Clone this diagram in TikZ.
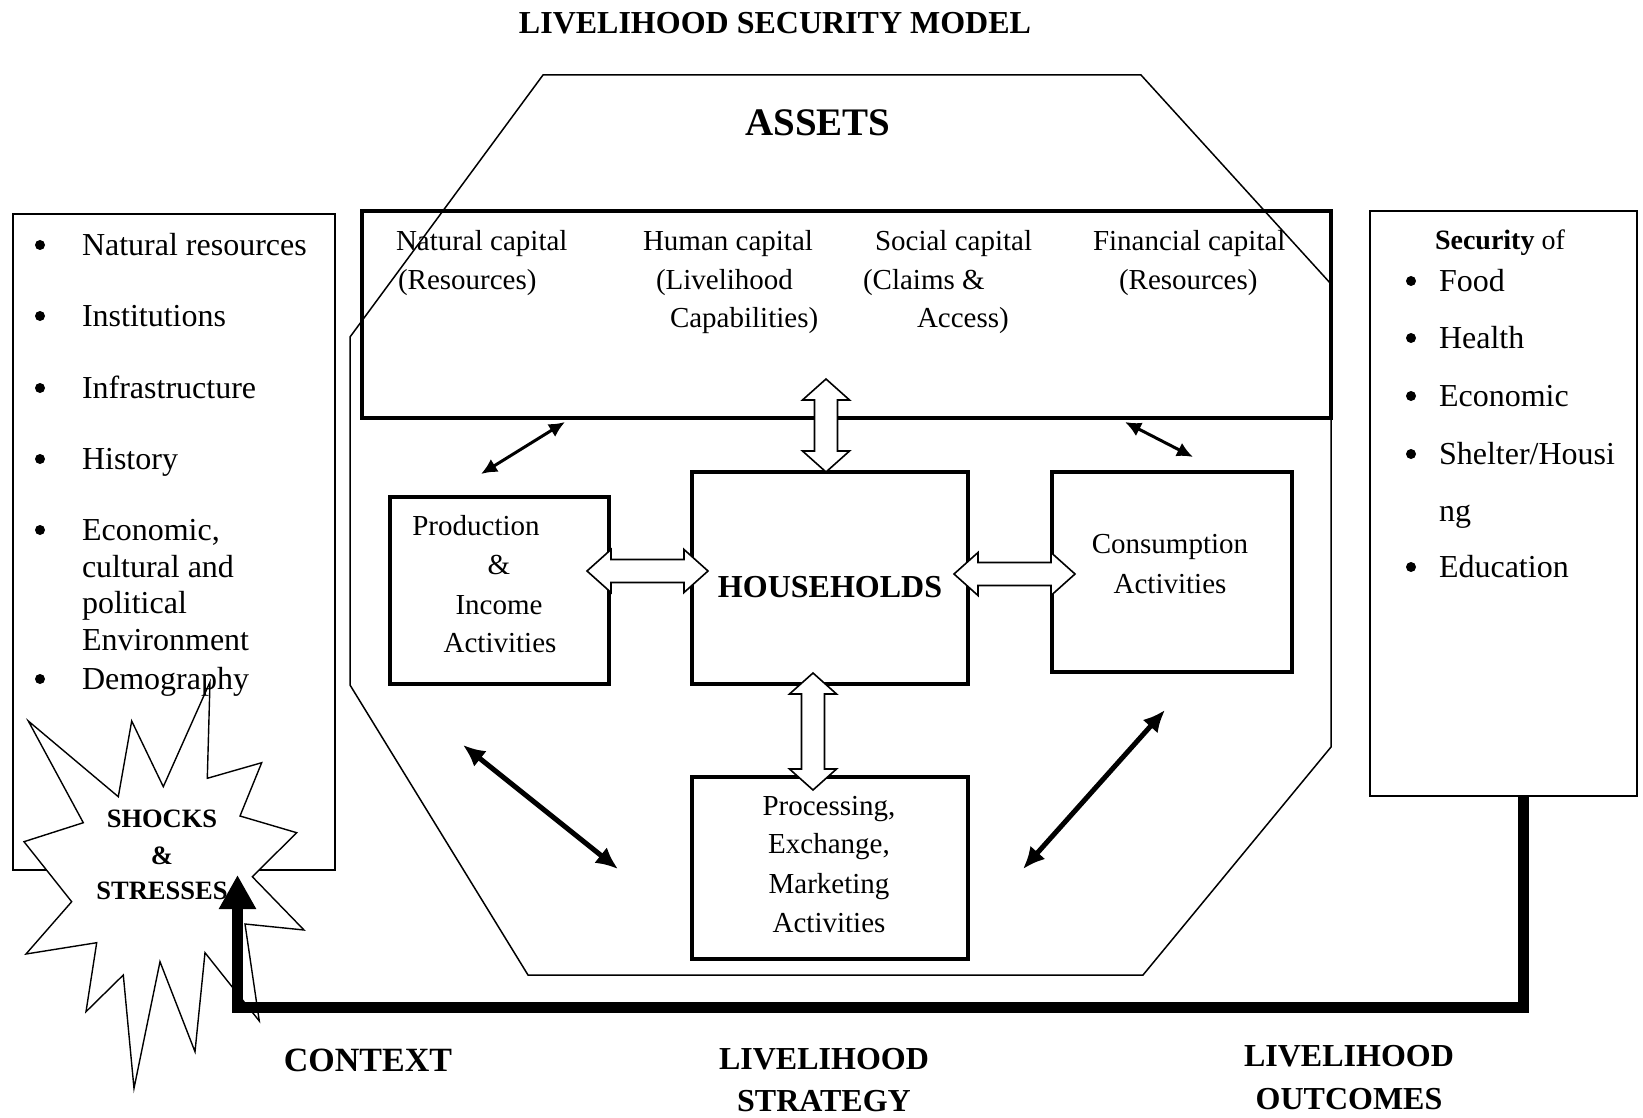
\documentclass[tikz,border=0pt]{standalone}
\usepackage{fontspec}
\setmainfont{Liberation Serif}
\usetikzlibrary{calc,arrows.meta}
\newcommand\blockV[2]{%
  \draw[blockarrow] (#1) -- ($(#1)+(23.5,21)$) -- ($(#1)+(11.5,21)$) -- ($(#2)+(11.5,-21)$) -- ($(#2)+(23.5,-21)$) -- (#2)
   -- ($(#2)+(-23.5,-21)$) -- ($(#2)+(-11.5,-21)$) -- ($(#1)+(-11.5,21)$) -- ($(#1)+(-23.5,21)$) -- cycle;}
\newcommand\blockH[2]{%
  \draw[blockarrow] (#1) -- ($(#1)+(24,-21.5)$) -- ($(#1)+(24,-11.5)$) -- ($(#2)+(-24,-11.5)$) -- ($(#2)+(-24,-21.5)$) -- (#2)
   -- ($(#2)+(-24,21.5)$) -- ($(#2)+(-24,11.5)$) -- ($(#1)+(24,11.5)$) -- ($(#1)+(24,21.5)$) -- cycle;}
\begin{document}
\begin{tikzpicture}[x=0.5pt,y=-0.5pt,
  every node/.style={inner sep=0pt,outer sep=0pt},
  txt/.style={text height=0.72em,text depth=0.22em,yshift=-2.8pt},
  fA/.style={txt,font=\fontsize{14.5pt}{17pt}\selectfont},
  fB/.style={txt,font=\fontsize{16pt}{19pt}\selectfont},
  fS/.style={txt,font=\fontsize{14pt}{17pt}\selectfont},
  hdr/.style={txt,font=\fontsize{16pt}{19pt}\selectfont\bfseries},
  shk/.style={txt,font=\fontsize{13.25pt}{16pt}\selectfont\bfseries},
  thinbox/.style={draw,line width=1pt},
  assetbox/.style={draw,line width=2.2pt},
  actbox/.style={draw,line width=1.7pt},
  oct/.style={line width=0.75pt},
  blockarrow/.style={draw,fill=white,line width=0.8pt,line join=miter},
  dblsmall/.style={line width=1.5pt,{Latex[length=8pt,width=7.5pt]}-{Latex[length=8pt,width=7.5pt]}},
  dblbig/.style={line width=2.5pt,{Latex[length=11pt,width=10pt]}-{Latex[length=11pt,width=10pt]}},
  feedback/.style={line width=5.5pt,line join=miter,-{Triangle[length=17pt,width=17.5pt]}},
  bul/.style={circle,fill=black,minimum size=5pt}
]
\useasboundingbox (0,0) rectangle (1643,1118);

% title
\node[hdr] (title) at (775,23) {LIVELIHOOD SECURITY MODEL};

% context box
\node[thinbox,minimum width=161pt,minimum height=328pt] (ctx) at (174,542) {};
% outcomes box
\node[thinbox,minimum width=133.5pt,minimum height=292.5pt] (out) at (1503.5,503.5) {};

% assets rectangle
\node[assetbox,minimum width=484.5pt,minimum height=103.5pt] (assets) at (846.5,314.5) {};

% octagon
\draw[oct] (543,75) -- (1141,75) -- (1331,284) -- (1331,747) -- (1143,975) -- (528,975) -- (350,685) -- (350,337) -- cycle;

\node[txt,font=\fontsize{19.5pt}{23pt}\selectfont\bfseries] (assetsT) at (818,125) {ASSETS};

% capitals
\node[fA,anchor=west] (nc1) at (396,240) {Natural capital};
\node[fA,anchor=west] (nc2) at (398,279) {(Resources)};
\node[fA,anchor=west] (hc1) at (643,240) {Human capital};
\node[fA,anchor=west] (hc2) at (656,279) {(Livelihood};
\node[fA,anchor=west] (hc3) at (670,317) {Capabilities)};
\node[fA,anchor=west] (sc1) at (875,240) {Social capital};
\node[fA,anchor=west] (sc2) at (863,279) {(Claims \&};
\node[fA,anchor=west] (sc3) at (917,317) {Access)};
\node[fA,anchor=west] (fc1) at (1093,240) {Financial capital};
\node[fA,anchor=west] (fc2) at (1119,279) {(Resources)};

% activity boxes
\node[actbox,minimum width=109.5pt,minimum height=93.5pt] (prod) at (499.5,590.5) {};
\node[actbox,minimum width=138pt,minimum height=106pt] (hh) at (830,578) {};
\node[actbox,minimum width=120pt,minimum height=100pt] (cons) at (1172,572) {};
\node[actbox,minimum width=138pt,minimum height=91pt] (proc) at (830,868) {};

\node[fA] (p1) at (476,525) {Production};
\node[fA] (p2) at (499,564) {\&};
\node[fA] (p3) at (499,604) {Income};
\node[fA] (p4) at (500,642) {Activities};

\node[hdr] (hhT) at (830,587) {HOUSEHOLDS};

\node[fA] (c1) at (1170,543) {Consumption};
\node[fA] (c2) at (1170,583) {Activities};

\node[fA] (r1) at (829,805) {Processing,};
\node[fA] (r2) at (829,843) {Exchange,};
\node[fA] (r3) at (829,883) {Marketing};
\node[fA] (r4) at (829,922) {Activities};

% block arrows
\coordinate (va1) at (826,379); \coordinate (va2) at (826,472);
\coordinate (vb1) at (813,673); \coordinate (vb2) at (813,790);
\coordinate (ha1) at (587,571); \coordinate (ha2) at (708,571);
\coordinate (hb1) at (954,574); \coordinate (hb2) at (1075,574);
\blockV{va1}{va2}
\blockV{vb1}{vb2}
\blockH{ha1}{ha2}
\blockH{hb1}{hb2}

% thin double arrows
\coordinate (t1a) at (481,474); \coordinate (t1b) at (565,422);
\coordinate (t2a) at (1125,422); \coordinate (t2b) at (1193,457);
\coordinate (t3a) at (463,745); \coordinate (t3b) at (618,869);
\coordinate (t4a) at (1165,710); \coordinate (t4b) at (1023,869);
\draw[dblsmall] (t1a) -- (t1b);
\draw[dblsmall] (t2a) -- (t2b);
\draw[dblbig] (t3a) -- (t3b);
\draw[dblbig] (t4a) -- (t4b);

% star
\draw[fill=white,line width=0.7pt,line join=miter] (210,682) -- (207.3,778.3) -- (261.7,762.7) -- (240,816) -- (296.7,832.7)
  -- (252.3,876.7) -- (304,930) -- (245,924) -- (259.3,1021) -- (205,952.7) -- (195,1051.7) -- (160,961.7)
  -- (134,1088.3) -- (123.3,975) -- (86,1011.7) -- (96.7,942.7) -- (26,954) -- (71.7,901.7) -- (24,841.7)
  -- (83.3,822.7) -- (28.3,721) -- (118.3,796.7) -- (131.7,721) -- (163.3,786.7) -- cycle;

% context list
\foreach \y in {245,316,388,459,530,679} \node[bul] at (40,\y) {};
\node[fB,anchor=west] (k1) at (82,245) {Natural resources};
\node[fB,anchor=west] (k2) at (82,316) {Institutions};
\node[fB,anchor=west] (k3) at (82,388) {Infrastructure};
\node[fB,anchor=west] (k4) at (82,459) {History};
\node[fB,anchor=west] (k5) at (82,530) {Economic,};
\node[fB,anchor=west] (k6) at (82,567) {cultural and};
\node[fB,anchor=west] (k7) at (82,603) {political};
\node[fB,anchor=west] (k8) at (82,640) {Environment};
\node[fB,anchor=west] (k9) at (82,679) {Demography};

% outcomes list
\node[fS,anchor=west] (o0) at (1435,239) {\textbf{Security} of};
\foreach \y in {281,338,396,454,567} \node[bul] at (1411,\y) {};
\node[fB,anchor=west] (o1) at (1439,281) {Food};
\node[fB,anchor=west] (o2) at (1439,338) {Health};
\node[fB,anchor=west] (o3) at (1439,396) {Economic};
\node[fB,anchor=west] (o4) at (1439,454) {Shelter/Housi};
\node[fB,anchor=west] (o5) at (1439,511) {ng};
\node[fB,anchor=west] (o6) at (1439,567) {Education};

% shocks text
\node[shk] (s1) at (162,817) {SHOCKS};
\node[shk] (s2) at (162,854) {\&};
\node[shk] (s3) at (162,889) {STRESSES};

% feedback
\coordinate (fbx) at (1523,0);
\coordinate (fbbase) at (237.5,1007.5);
\coordinate (fbtip) at (237.5,875);
\draw[feedback] (fbx |- out.south) -- (fbx |- fbbase) -- (fbbase) -- (fbtip);

% bottom labels
\node[txt,font=\fontsize{17pt}{20pt}\selectfont\bfseries] (context) at (368,1061) {CONTEXT};
\node[hdr] (ls1) at (824,1059) {LIVELIHOOD};
\node[hdr] (ls2) at (824,1101) {STRATEGY};
\node[hdr] (lo1) at (1349,1056) {LIVELIHOOD};
\node[hdr] (lo2) at (1349,1099) {OUTCOMES};
\end{tikzpicture}
\end{document}
